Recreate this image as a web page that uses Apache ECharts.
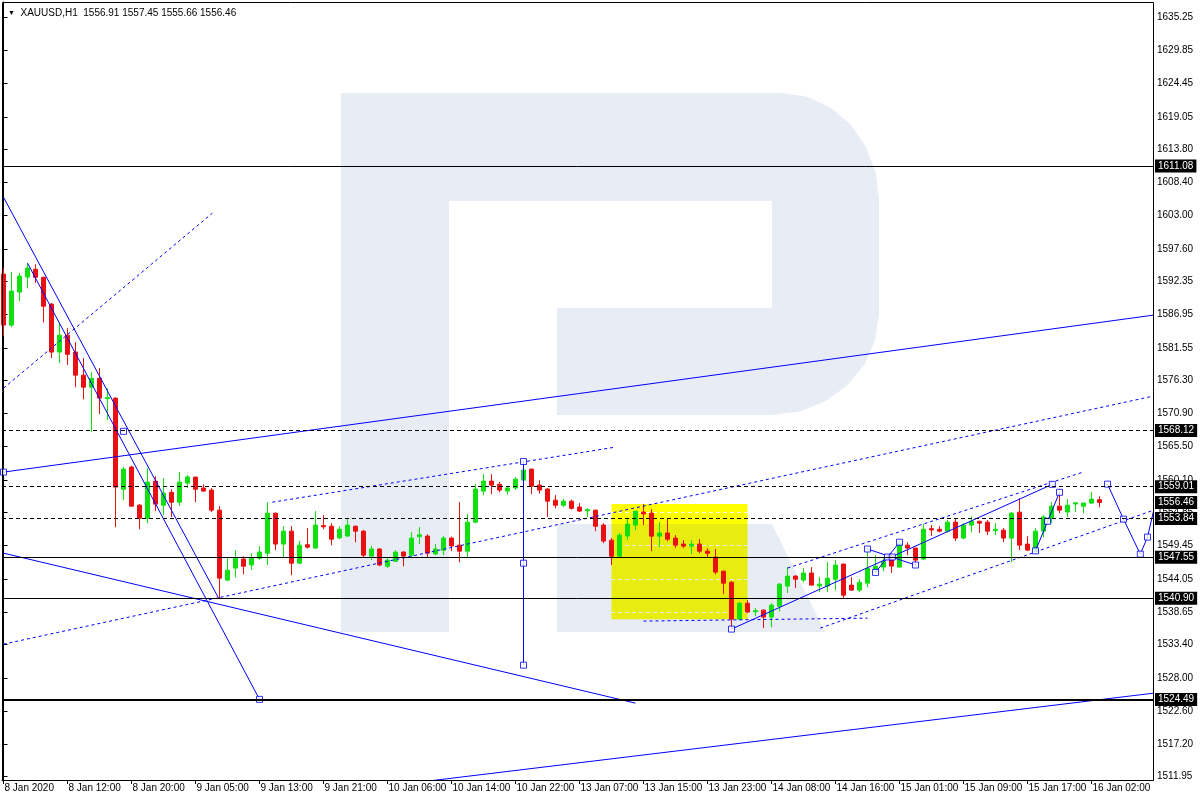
<!DOCTYPE html>
<html>
<head>
<meta charset="utf-8">
<title>XAUUSD H1</title>
<script src="https://cdn.jsdelivr.net/npm/echarts@6/dist/echarts.min.js"></script>
<style>
  html, body { margin: 0; padding: 0; background: #fff; }
  #main { width: 1200px; height: 800px; }
</style>
</head>
<body>
<div id="main"></div>
<script>
// time axis labels, one every 8 hourly bars
const tickLabels = ['8 Jan 2020', '8 Jan 12:00', '8 Jan 20:00', '9 Jan 05:00', '9 Jan 13:00', '9 Jan 21:00',
  '10 Jan 06:00', '10 Jan 14:00', '10 Jan 22:00', '13 Jan 07:00', '13 Jan 15:00', '13 Jan 23:00',
  '14 Jan 08:00', '14 Jan 16:00', '15 Jan 01:00', '15 Jan 09:00', '15 Jan 17:00', '16 Jan 02:00'];

const yTicks = [1635.25, 1629.85, 1624.45, 1619.05, 1613.80, 1608.40, 1603.00, 1597.60, 1592.35, 1586.95,
  1581.55, 1576.30, 1570.90, 1565.50, 1560.10, 1554.85, 1549.45, 1544.05, 1538.65, 1533.40,
  1528.00, 1522.60, 1517.20, 1511.95];

// hourly candles
const open = [1593.52, 1585.24, 1590.6, 1593.03, 1594.3, 1593.0, 1588.65, 1580.86, 1583.6, 1580.86,
  1577.12, 1575.17, 1576.6, 1573.3, 1573.39, 1558.6, 1562.2, 1556.02, 1553.9, 1559.92,
  1556.0, 1558.1, 1556.5, 1559.6, 1560.57, 1558.8, 1558.46, 1555.21, 1543.85, 1545.8,
  1547.26, 1546.3, 1547.4, 1548.23, 1554.72, 1549.7, 1551.8, 1546.6, 1549.6, 1549.05,
  1552.7, 1552.6, 1550.7, 1551.0, 1552.6, 1551.8, 1547.75, 1548.9, 1546.1, 1546.9,
  1548.4, 1547.9, 1550.9, 1551.0, 1548.1, 1548.7, 1550.67, 1549.53, 1548.55, 1553.26,
  1558.3, 1559.92, 1559.4, 1558.3, 1558.8, 1560.08, 1561.87, 1559.27, 1558.62, 1556.83,
  1556.0, 1556.67, 1555.7, 1555.1, 1555.21, 1552.78, 1550.34, 1547.74, 1551.0, 1552.78,
  1554.9, 1554.72, 1550.99, 1551.5, 1550.67, 1549.7, 1549.37, 1549.7, 1548.55, 1547.58,
  1545.3, 1543.5, 1537.52, 1540.1, 1538.7, 1538.98, 1537.85, 1539.63, 1542.88, 1544.5,
  1543.85, 1545.0, 1542.9, 1542.88, 1544.0, 1546.45, 1543.04, 1542.23, 1543.36, 1545.5,
  1545.96, 1547.26, 1545.96, 1549.53, 1549.05, 1547.26, 1552.2, 1552.1, 1551.8, 1553.26,
  1550.67, 1552.78, 1553.4, 1553.26, 1551.9, 1551.96, 1550.67, 1554.88, 1549.7, 1548.55,
  1551.8, 1553.9, 1555.86, 1554.9, 1556.2, 1555.86, 1556.35, 1556.91];
const high = [1594.49, 1593.84, 1593.7, 1595.3, 1595.1, 1593.1, 1588.8, 1585.7, 1584.75, 1582.48,
  1579.9, 1577.6, 1578.26, 1575.0, 1573.5, 1562.2, 1562.4, 1556.2, 1562.0, 1560.7,
  1560.4, 1558.6, 1561.38, 1560.9, 1560.6, 1559.4, 1558.8, 1555.86, 1547.58, 1548.72,
  1547.7, 1548.2, 1549.37, 1556.5, 1554.8, 1552.6, 1552.6, 1550.2, 1552.3, 1555.05,
  1554.4, 1553.1, 1552.6, 1553.75, 1552.7, 1552.0, 1549.4, 1549.05, 1547.4, 1548.7,
  1548.55, 1551.65, 1552.45, 1551.3, 1549.7, 1551.0, 1550.9, 1556.5, 1554.56, 1559.43,
  1561.05, 1561.05, 1559.8, 1559.0, 1560.57, 1563.1, 1561.9, 1560.08, 1558.8, 1557.65,
  1557.0, 1556.9, 1556.35, 1555.5, 1555.3, 1553.1, 1550.67, 1551.5, 1553.9, 1555.1,
  1556.19, 1555.37, 1553.26, 1553.9, 1551.15, 1550.34, 1550.34, 1550.5, 1549.05, 1548.9,
  1545.4, 1543.7, 1540.28, 1540.6, 1539.3, 1539.1, 1540.1, 1543.36, 1545.96, 1544.66,
  1545.8, 1545.96, 1544.33, 1546.77, 1547.1, 1546.5, 1544.33, 1544.0, 1549.05, 1547.9,
  1547.4, 1548.07, 1550.34, 1550.0, 1549.1, 1552.94, 1552.78, 1552.6, 1553.6, 1553.9,
  1553.1, 1554.2, 1553.5, 1553.6, 1553.1, 1552.3, 1554.9, 1557.16, 1551.0, 1552.3,
  1554.4, 1556.5, 1558.14, 1557.0, 1556.5, 1556.4, 1558.14, 1557.45];
const low = [1583.45, 1584.91, 1589.1, 1591.2, 1592.1, 1585.7, 1579.9, 1579.1, 1578.75, 1575.17,
  1573.2, 1567.87, 1570.79, 1569.82, 1552.45, 1556.83, 1555.8, 1552.1, 1553.1, 1555.05,
  1554.4, 1554.1, 1555.9, 1558.8, 1556.5, 1558.2, 1554.9, 1540.9, 1543.7, 1544.3,
  1544.8, 1545.5, 1547.1, 1546.3, 1548.7, 1547.58, 1544.66, 1546.45, 1549.0, 1549.0,
  1552.1, 1549.5, 1550.5, 1550.9, 1550.0, 1547.6, 1547.1, 1546.1, 1545.8, 1546.8,
  1546.1, 1547.4, 1549.7, 1547.6, 1547.9, 1547.9, 1548.55, 1546.77, 1547.6, 1553.1,
  1557.65, 1557.8, 1558.1, 1557.7, 1558.5, 1559.76, 1557.8, 1557.9, 1554.1, 1555.5,
  1555.7, 1555.3, 1554.9, 1554.1, 1551.8, 1549.85, 1546.29, 1547.6, 1550.34, 1551.96,
  1552.78, 1548.55, 1549.2, 1550.18, 1549.05, 1549.05, 1548.07, 1548.2, 1547.6, 1544.8,
  1541.58, 1535.9, 1537.4, 1538.5, 1538.0, 1536.06, 1536.2, 1538.8, 1541.75, 1542.55,
  1543.5, 1543.0, 1541.9, 1541.9, 1542.2, 1540.9, 1542.1, 1541.9, 1542.7, 1544.99,
  1545.3, 1545.0, 1545.9, 1547.9, 1546.3, 1547.1, 1551.0, 1551.6, 1551.6, 1550.2,
  1550.5, 1551.6, 1551.5, 1551.15, 1551.15, 1550.0, 1546.77, 1548.72, 1548.55, 1548.4,
  1550.8, 1553.1, 1554.7, 1554.1, 1554.9, 1554.7, 1556.2, 1555.66];
const close = [1585.24, 1590.76, 1593.2, 1594.49, 1593.0, 1588.3, 1580.86, 1583.6, 1580.5, 1577.12,
  1575.17, 1576.6, 1573.39, 1573.5, 1558.95, 1561.87, 1555.86, 1553.9, 1559.76, 1556.19,
  1557.97, 1556.5, 1559.76, 1560.6, 1558.6, 1558.3, 1555.21, 1544.17, 1545.47, 1547.42,
  1546.1, 1547.4, 1548.4, 1554.72, 1549.7, 1551.8, 1546.6, 1549.53, 1549.2, 1552.78,
  1552.5, 1550.5, 1552.1, 1552.78, 1551.8, 1547.9, 1548.9, 1546.3, 1547.1, 1548.4,
  1547.75, 1550.67, 1551.2, 1548.23, 1548.9, 1550.67, 1549.4, 1548.55, 1553.26, 1558.62,
  1559.92, 1559.27, 1558.46, 1558.8, 1560.24, 1561.7, 1559.1, 1558.46, 1556.67, 1556.0,
  1556.67, 1555.5, 1555.05, 1555.3, 1552.6, 1550.18, 1547.74, 1551.15, 1552.94, 1555.05,
  1554.6, 1550.99, 1551.5, 1550.5, 1549.53, 1549.37, 1549.7, 1548.55, 1548.2, 1545.15,
  1543.36, 1537.52, 1540.1, 1538.66, 1538.9, 1537.85, 1539.8, 1543.2, 1544.5, 1544.0,
  1545.0, 1543.04, 1543.2, 1544.17, 1546.29, 1541.41, 1542.23, 1543.5, 1545.8, 1546.1,
  1546.9, 1546.13, 1549.86, 1549.05, 1547.1, 1552.1, 1552.0, 1551.8, 1553.26, 1550.67,
  1552.78, 1553.4, 1553.1, 1551.8, 1552.1, 1550.67, 1554.72, 1549.53, 1548.72, 1551.8,
  1554.1, 1555.86, 1555.21, 1556.0, 1556.4, 1556.35, 1557.0, 1556.46];

// horizontal levels
const levelSolid = [1611.08, 1547.55, 1540.90];
const levelThick = [1524.49];
const levelDashed = [1568.12, 1559.01, 1553.84];
const bidPrice = 1556.46;

// yellow zone [bar, price] corners
const zone = [[76, 1556.19], [93, 1537.52]];

// drawn trend lines as [bar, price] points
const solidLines = [
  [[0, 1561.38], [143.75, 1586.86]],
  [[0, 1548.23], [79, 1523.88]],
  [[3, 1595.3], [32, 1524.5]],
  [[0, 1606.0], [26.9, 1540.9]],
  [[91, 1535.9], [131.1, 1559.4]],
  [[65, 1563.1], [65, 1530.05]],
  [[108, 1548.9], [114, 1546.3]],
  [[109, 1545.1], [112, 1550.0]],
  [[129, 1548.6], [132, 1558.1]],
  [[138, 1559.43], [140, 1553.75], [142.1, 1548.07], [143, 1550.83], [143.75, 1555.05]],
  [[40, 1509.18], [143.75, 1525.5]]
];
const dottedLines = [
  [[0, 1575.0], [26.1, 1603.4]],
  [[0, 1533.46], [143.75, 1573.72]],
  [[33.6, 1556.5], [76.5, 1565.44]],
  [[98, 1545.8], [135, 1561.4]],
  [[102.1, 1536.06], [143.75, 1555.2]],
  [[80, 1537.2], [108, 1537.68]]
];
const anchors = [[0, 1561.38], [15, 1568.0], [32, 1524.5], [65, 1563.1], [65, 1546.6], [65, 1530.05],
  [91, 1535.9], [131.1, 1559.4], [108, 1548.9], [109, 1545.1], [110.5, 1547.6], [111.1, 1547.6],
  [112, 1550.0], [114, 1546.3], [129, 1548.6], [130.5, 1553.4], [132, 1558.1],
  [138, 1559.43], [140, 1553.75], [142.1, 1548.07], [143, 1550.83]];

const FONT = 'Liberation Sans';
const BULL = '#10e010';
const BEAR = '#e81010';
const BLUE = '#0000ff';
const WM = 'rgba(30,70,160,0.1)';

const candles = open.map((o, i) => [i, o, close[i], low[i], high[i]]);
const last = open.length - 1;
const header = ['XAUUSD,H1 ', open[last], high[last], low[last], close[last]]
  .map(v => typeof v === 'number' ? v.toFixed(2) : v).join(' ');

function levelLine(v, style) {
  return {
    yAxis: v,
    lineStyle: style,
    label: {
      show: true, position: 'end', distance: 2,
      formatter: p => p.value.toFixed(2),
      color: '#fff', backgroundColor: '#000', padding: [2, 3, 1, 3],
      fontSize: 10, fontFamily: FONT
    }
  };
}

var chart = echarts.init(document.getElementById('main'));

var series = [
  {
    type: 'line', data: [], z: 1, silent: true,
    markArea: {
      silent: true,
      itemStyle: { color: '#ffff00' },
      data: [[{ coord: zone[0] }, { coord: zone[1] }]]
    }
  },
  {
    type: 'candlestick',
    data: candles,
    encode: { x: 0, y: [1, 2, 3, 4] },
    barWidth: 4,
    z: 5,
    silent: true,
    itemStyle: {
      color: BULL, color0: BEAR,
      borderColor: BULL, borderColor0: BEAR, borderColorDoji: BULL,
      borderWidth: 1
    }
  }
];

solidLines.forEach(pts => series.push({
  type: 'line', data: pts, symbol: 'none', z: 6, silent: true,
  lineStyle: { color: BLUE, width: 1 }
}));
dottedLines.forEach(pts => series.push({
  type: 'line', data: pts, symbol: 'none', z: 6, silent: true,
  lineStyle: { color: BLUE, width: 1, type: [3, 3] }
}));
series.push({
  type: 'scatter', data: anchors, symbol: 'rect', symbolSize: 6, z: 7, silent: true,
  itemStyle: { color: '#fff', borderColor: BLUE, borderWidth: 1 }
});
series.push({
  type: 'line', data: [[last, close[last]]], symbol: 'none', clip: false, silent: true,
  lineStyle: { opacity: 0 },
  markLine: {
    symbol: ['none', 'none'], silent: true, z: 8, animation: false,
    data: [].concat(
      levelSolid.map(v => levelLine(v, { color: '#000', width: 1, type: 'solid' })),
      levelThick.map(v => levelLine(v, { color: '#000', width: 2, type: 'solid' })),
      levelDashed.map(v => levelLine(v, { color: '#000', width: 1, type: [4, 3] })),
      [levelLine(bidPrice, { color: 'rgba(0,0,0,0)', width: 0 })]
    )
  }
});

var option = {
  animation: false,
  backgroundColor: '#fff',
  title: {
    text: '{tri|▼}  ' + header,
    left: 3, top: 3,
    textStyle: {
      fontSize: 10, fontWeight: 'normal', color: '#000', fontFamily: FONT,
      rich: { tri: { fontSize: 7, color: '#000' } }
    }
  },
  grid: { left: 2, right: 47, top: 2, bottom: 20 },
  xAxis: {
    type: 'value', min: -0.1875, max: 143.6875,
    axisLine: { show: true, lineStyle: { color: '#000' } },
    axisTick: { show: true, length: 4, customValues: tickLabels.map((t, i) => i * 8), lineStyle: { color: '#000' } },
    axisLabel: {
      customValues: tickLabels.map((t, i) => i * 8),
      formatter: v => tickLabels[Math.round(v / 8)],
      align: 'left', margin: 3, padding: [0, 0, 0, 1],
      color: '#000', fontSize: 10, fontFamily: FONT
    },
    splitLine: { show: false }
  },
  yAxis: {
    type: 'value', position: 'right', min: 1511.41, max: 1637.68, z: 2,
    axisLine: { show: true, lineStyle: { color: '#000' } },
    axisTick: { show: true, length: 4, customValues: yTicks, lineStyle: { color: '#000' } },
    axisLabel: {
      customValues: yTicks,
      formatter: v => v.toFixed(2),
      margin: 4, color: '#000', fontSize: 10, fontFamily: FONT
    },
    splitLine: { show: true, lineStyle: { color: '#fff', width: 1, type: [4, 3] } }
  },
  graphic: [
    {
      type: 'polygon', z: 3, silent: true,
      shape: { points: [[341, 93], [781, 93], [806.4, 96.6], [830, 107.3], [850.3, 124.3], [865.9, 146.5],
        [875.7, 172.3], [879, 200], [879, 313], [875.4, 339.4], [864.7, 364], [847.7, 385.1],
        [825.5, 401.3], [799.7, 411.5], [772, 415], [557, 415], [557, 308], [772, 308],
        [772, 201], [449, 201], [449, 632], [341, 632]] },
      style: { fill: WM }
    },
    {
      type: 'polygon', z: 3, silent: true,
      shape: { points: [[557, 524], [772, 524], [825, 632], [557, 632]] },
      style: { fill: WM }
    },
    {
      type: 'rect', z: 10, silent: true,
      shape: { x: 2.5, y: 2.5, width: 1151, height: 778 },
      style: { fill: 'none', stroke: '#000', lineWidth: 1 }
    }
  ],
  series: series
};

chart.setOption(option);
</script>
</body>
</html>
